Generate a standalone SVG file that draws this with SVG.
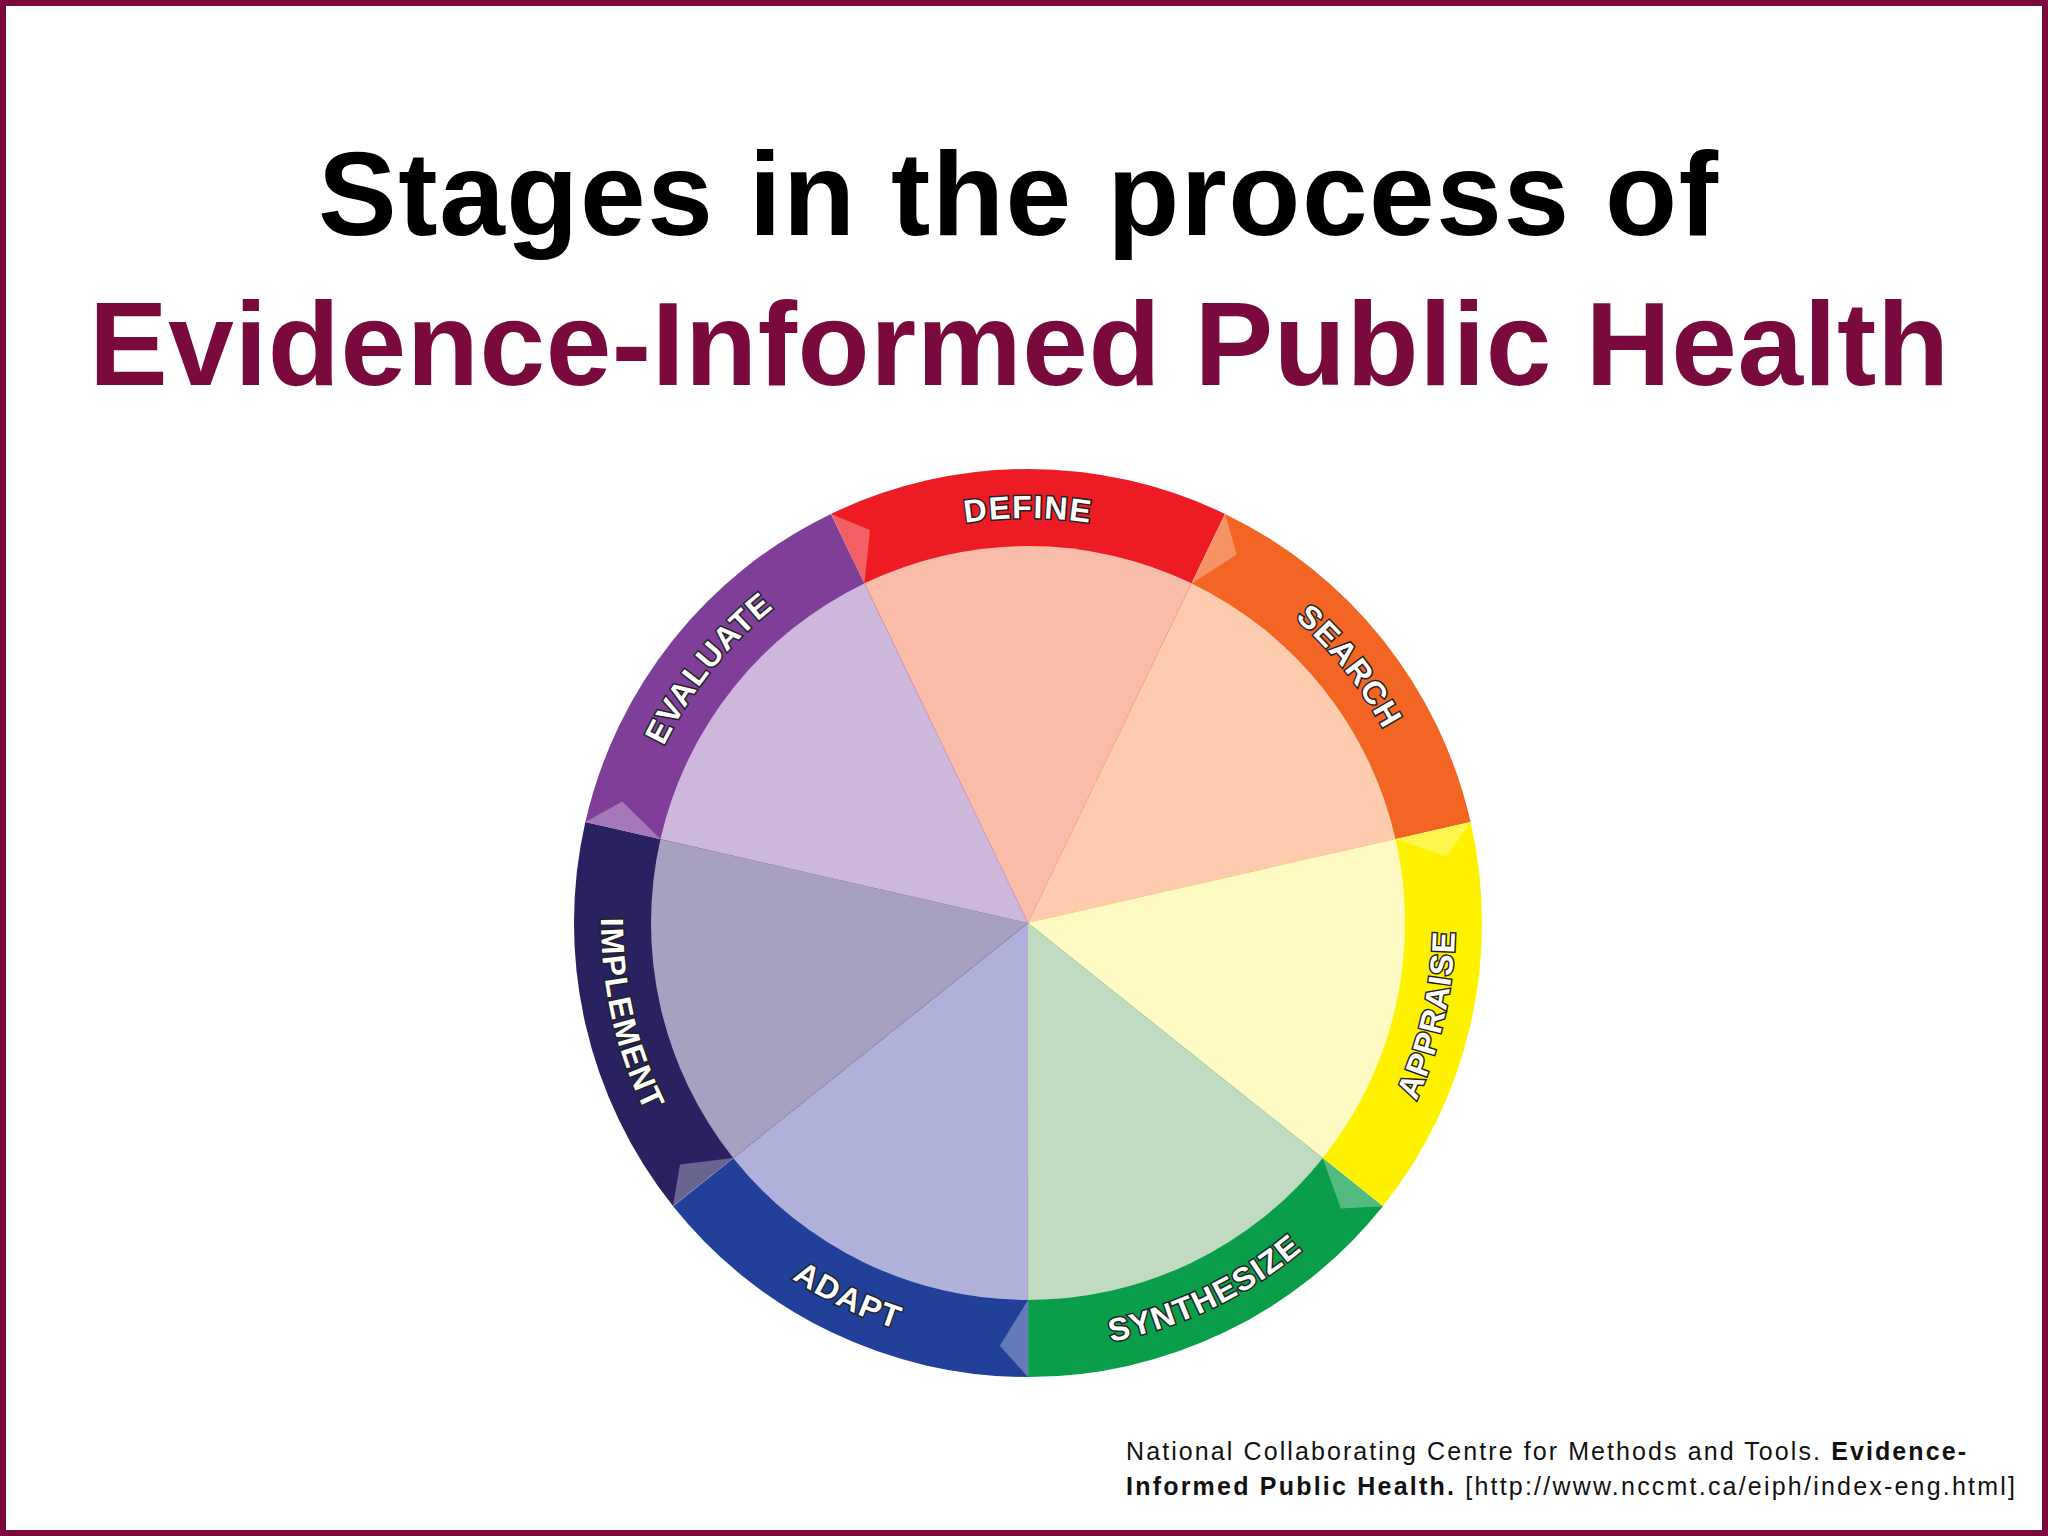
<svg xmlns="http://www.w3.org/2000/svg" xmlns:xlink="http://www.w3.org/1999/xlink" width="2048" height="1536" viewBox="0 0 2048 1536">
<style>
.lbl{font-family:"Liberation Sans",Arial,sans-serif;font-weight:bold;font-size:32px;fill:#fff;stroke:#222;stroke-width:3;paint-order:stroke;letter-spacing:1.5px}
.foot{font-family:"Liberation Sans",Arial,sans-serif;font-size:25px;fill:#111}
.flap{fill:#fff;opacity:0.3}
</style>
<defs>
<path id="outer" d="M1028 923 L831.1 513.9 A454 454 0 0 1 1224.9 513.9 Z"/>
<path id="inner" d="M1028 923 L864.5 583.3 A377 377 0 0 1 1191.5 583.3 Z"/>
<path id="flapS" d="M831.1 513.9 L864.5 583.3 L870 530 Z"/>
<path id="cw" d="M852.4 558.1 A405 405 0 0 1 1203.6 558.1"/>
<path id="ccw" d="M842.8 1307.8 A429 429 0 0 0 1213.2 1307.8"/>
</defs>
<rect x="3" y="3" width="2042" height="1530" fill="#fff" stroke="#7A0A3E" stroke-width="6"/>
<text x="1018" y="235" font-family="Liberation Sans,Arial,sans-serif" font-weight="bold" font-size="118" text-anchor="middle" textLength="1400" lengthAdjust="spacing" fill="#000">Stages in the process of</text>
<text x="1019" y="385" font-family="Liberation Sans,Arial,sans-serif" font-weight="bold" font-size="118" text-anchor="middle" textLength="1860" lengthAdjust="spacing" fill="#7A0A3E">Evidence-Informed Public Health</text>
<g id="define"><use href="#outer" fill="#ED1C24"/><use href="#inner" fill="#F8BCA8"/><use href="#flapS" class="flap"/><text class="lbl"><textPath href="#cw" startOffset="50%" text-anchor="middle">DEFINE</textPath></text></g>
<g id="search" transform="rotate(51.43 1028 923)"><use href="#outer" fill="#F26522"/><use href="#inner" fill="#FDCBAE"/><use href="#flapS" class="flap"/><text class="lbl"><textPath href="#cw" startOffset="50%" text-anchor="middle">SEARCH</textPath></text></g>
<g id="appraise" transform="rotate(102.86 1028 923)"><use href="#outer" fill="#FFF200"/><use href="#inner" fill="#FFF9C4"/><use href="#flapS" class="flap"/></g>
<g id="synthesize" transform="rotate(154.29 1028 923)"><use href="#outer" fill="#0A9E4A"/><use href="#inner" fill="#C1DBC0"/><use href="#flapS" class="flap"/></g>
<g id="adapt" transform="rotate(205.71 1028 923)"><use href="#outer" fill="#21409A"/><use href="#inner" fill="#AFB1DA"/><use href="#flapS" class="flap"/></g>
<g id="implement" transform="rotate(257.14 1028 923)"><use href="#outer" fill="#2A2160"/><use href="#inner" fill="#A8A0BF"/><use href="#flapS" class="flap"/></g>
<g id="evaluate" transform="rotate(308.57 1028 923)"><use href="#outer" fill="#7F3F98"/><use href="#inner" fill="#CDB8DC"/><use href="#flapS" class="flap"/><text class="lbl"><textPath href="#cw" startOffset="50%" text-anchor="middle">EVALUATE</textPath></text></g>
<g id="labels-bottom">
<text class="lbl" transform="rotate(-77.15 1028 923)"><textPath href="#ccw" startOffset="50%" text-anchor="middle">APPRAISE</textPath></text>
<text class="lbl" transform="rotate(-25.7 1028 923)"><textPath href="#ccw" startOffset="50%" text-anchor="middle">SYNTHESIZE</textPath></text>
<text class="lbl" transform="rotate(25.7 1028 923)"><textPath href="#ccw" startOffset="50%" text-anchor="middle">ADAPT</textPath></text>
<text class="lbl" transform="rotate(77.15 1028 923)"><textPath href="#ccw" startOffset="50%" text-anchor="middle">IMPLEMENT</textPath></text>
</g>
<g id="connectors"/>
<text class="foot" x="1126" y="1460" textLength="840" lengthAdjust="spacing">National Collaborating Centre for Methods and Tools. <tspan font-weight="bold">Evidence-</tspan></text>
<text class="foot" x="1126" y="1495" textLength="889" lengthAdjust="spacing"><tspan font-weight="bold">Informed Public Health.</tspan> [http://www.nccmt.ca/eiph/index-eng.html]</text>
</svg>
